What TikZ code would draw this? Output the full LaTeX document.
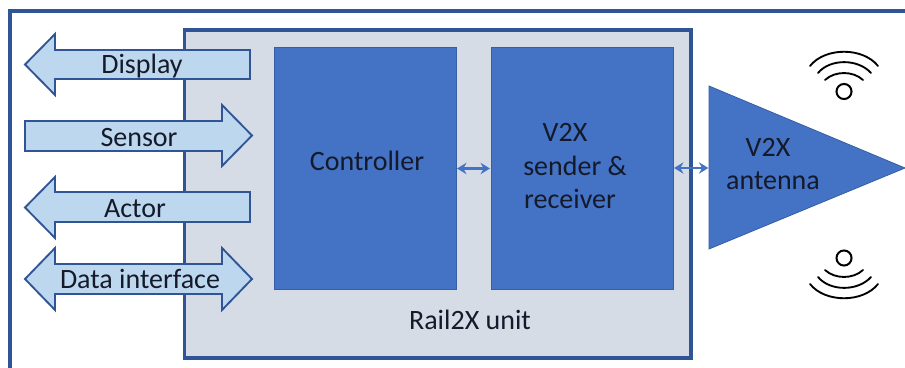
\documentclass[tikz,border=0pt]{standalone}
\usepackage{fontspec}
\setmainfont{Carlito}
\usetikzlibrary{arrows.meta}
\definecolor{frameblue}{HTML}{2F5597}
\definecolor{boxblue}{HTML}{4472C4}
\definecolor{unitgrey}{HTML}{D6DCE5}
\definecolor{lightblock}{HTML}{BDD7EE}
\definecolor{inktext}{HTML}{141A2A}
\tikzset{
  x=0.75pt,y=-0.75pt,
  framed/.style={draw=frameblue,line width=2.3pt},
  bluebox/.style={draw=frameblue!70!boxblue,line width=0.6pt,fill=boxblue,minimum width=136.5pt,minimum height=182pt,inner sep=0pt},
  blockarrow/.style={draw=frameblue,line width=1.4pt,fill=lightblock,line join=miter},
  lbl/.style={text=inktext,font=\fontsize{21}{25}\selectfont,inner sep=0pt,align=center},
  link/.style={{Stealth[length=7pt,width=8.5pt]}-{Stealth[length=7pt,width=8.5pt]},draw=boxblue,line width=2pt,shorten >=0.5pt,shorten <=0.5pt},
  wave/.style={draw=black,line width=1.4pt,line cap=round},
  dot/.style={circle,draw=black,line width=1.5pt,minimum size=11.3pt,inner sep=0pt}
}
\begin{document}
\begin{tikzpicture}
\useasboundingbox (0,0) rectangle (905,367);
\clip (0,0) rectangle (905,367);
\fill[white] (0,0) rectangle (905,367);
% outer frame
\draw[framed] (10,372) -- (10,11) -- (910,11);
% unit
\draw[framed,fill=unitgrey] (184.5,30) rectangle (691,358);
% inner boxes
\node[bluebox] (ctrl) at (365,168.5) {};
\node[bluebox] (radio) at (582,168.5) {};
\node[lbl] (ctrllbl) at (367,161) {Controller};
\node[lbl] (v2xa) at (565,132) {V2X};
\node[lbl] (v2xb) at (575,166) {sender \&};
\node[lbl] (v2xc) at (570,199) {receiver};
\node[lbl] (unitlbl) at (470,320) {Rail2X unit};
% antenna
\draw[draw=frameblue!70!boxblue,line width=0.6pt,fill=boxblue] (709,86) -- (905,168) -- (709,249) -- cycle;
\coordinate (antin) at (709,168);
\node[lbl] (anta) at (768,147) {V2X};
\node[lbl] (antb) at (773,181) {antenna};
% links
\draw[link] (ctrl) -- (radio);
\draw[link] (radio.east |- antin) -- (antin);
% block arrows
\draw[blockarrow] (250,50) -- (55,50) -- (55,34) -- (25,64.5) -- (55,95) -- (55,79) -- (250,79) -- cycle;
\node[lbl] (display) at (142,66) {Display};
\draw[blockarrow] (25,121) -- (222,121) -- (222,105) -- (252,135.5) -- (222,166) -- (222,151) -- (25,151) -- cycle;
\node[lbl] (sensor) at (139,137.5) {Sensor};
\draw[blockarrow] (250,192) -- (55,192) -- (55,177) -- (25,207.5) -- (55,238) -- (55,222) -- (250,222) -- cycle;
\node[lbl] (actor) at (135,208.5) {Actor};
\draw[blockarrow] (55,264) -- (222,264) -- (222,248) -- (252,279) -- (222,310) -- (222,294) -- (55,294) -- (55,310) -- (25,279) -- (55,248) -- cycle;
\node[lbl] (data) at (140,279) {Data interface};
% wireless icons
\node[dot] (dottop) at (844,91.5) {};
\draw[wave] (825,80) .. controls (835,70.7) and (853,70.7) .. (863,80);
\draw[wave] (818,73) .. controls (830,58.5) and (858,58.5) .. (871,73);
\draw[wave] (810,66) .. controls (825,47) and (863,47) .. (878,66);
\node[dot] (dotbot) at (844,258) {};
\draw[wave] (825,270) .. controls (835,279.3) and (853,279.3) .. (863,270);
\draw[wave] (818,277) .. controls (830,291.5) and (858,291.5) .. (871,277);
\draw[wave] (810,284) .. controls (825,303) and (863,303) .. (878,284);
\end{tikzpicture}
\end{document}
